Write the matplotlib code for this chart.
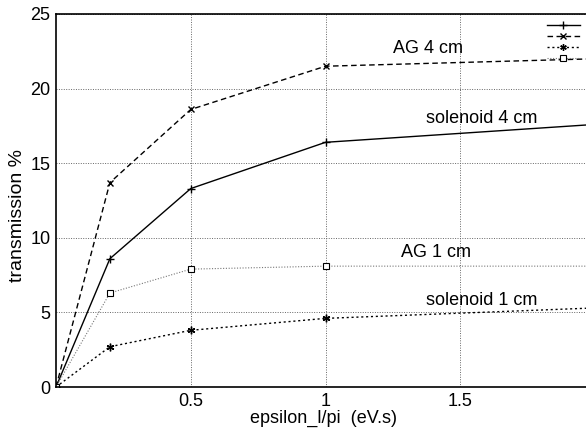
import matplotlib
matplotlib.use("Agg")
import matplotlib.pyplot as plt

plt.rcParams['font.family'] = ['Liberation Sans', 'DejaVu Sans']

# beam emittance epsilon_l/pi (eV.s)
eps = [0, 0.2, 0.5, 1.0, 2.0]

# transmission % per configuration
sol_4cm = [0, 8.6, 13.3, 16.4, 17.6]
ag_4cm = [0, 13.7, 18.6, 21.5, 22.0]
sol_1cm = [0, 2.7, 3.8, 4.6, 5.3]
ag_1cm = [0, 6.3, 7.9, 8.1, 8.1]

labels = ['AG 4 cm', 'solenoid 4 cm', 'AG 1 cm', 'solenoid 1 cm']
label_pos = [(1.38, 22.7), (1.58, 18.0), (1.41, 9.0), (1.58, 5.8)]

fig = plt.figure(figsize=(5.86, 4.28), dpi=100)
ax = fig.add_axes([56 / 586, 41 / 428, 539 / 586, 373 / 428])

l1, = ax.plot(eps, sol_4cm, color='black', lw=1.0, ls='-', marker='+', ms=6, mew=1.0)
l2, = ax.plot(eps, ag_4cm, color='black', lw=1.0, ls=(0, (4, 2.5)), marker='x', ms=4.5, mew=1.0)
l3, = ax.plot(eps, sol_1cm, color='black', lw=1.0, ls=(0, (1.5, 2)), marker=(6, 2, 0), ms=5.5, mew=1.0)
l4, = ax.plot(eps, ag_1cm, color='#777777', lw=0.8, ls=(0, (1, 1.5)), marker='s', ms=4.5,
              mfc='white', mec='black', mew=0.8)

for txt, (x, y) in zip(labels, label_pos):
    ax.text(x, y, txt, ha='center', va='center', fontsize=13)

leg = ax.legend([l1, l2, l3, l4], ['', '', '', ''], loc='upper right', frameon=False,
                bbox_to_anchor=(580 / 586, 407 / 428), bbox_transform=fig.transFigure,
                fontsize=8, handlelength=3.0, handletextpad=0, labelspacing=0.1,
                borderpad=0, borderaxespad=0, markerscale=0.85)

ax.set_xlim(0, 2)
ax.set_ylim(0, 25)
ax.set_xticks([0.5, 1, 1.5])
ax.set_xticklabels(['0.5', '1', '1.5'])
ax.set_yticks([0, 5, 10, 15, 20, 25])
ax.tick_params(length=0, labelsize=13, pad=4)
ax.grid(True, color='#666666', ls=(0, (1, 1.5)), lw=0.7)

ax.set_xlabel('epsilon_l/pi  (eV.s)', fontsize=13)
ax.xaxis.set_label_coords(0.497, -0.062)
ax.set_ylabel('transmission %', fontsize=14)
ax.yaxis.set_label_coords(-0.056, 0.461)

for s in ax.spines.values():
    s.set_linewidth(1.2)

fig.savefig('out.png', dpi=100)
